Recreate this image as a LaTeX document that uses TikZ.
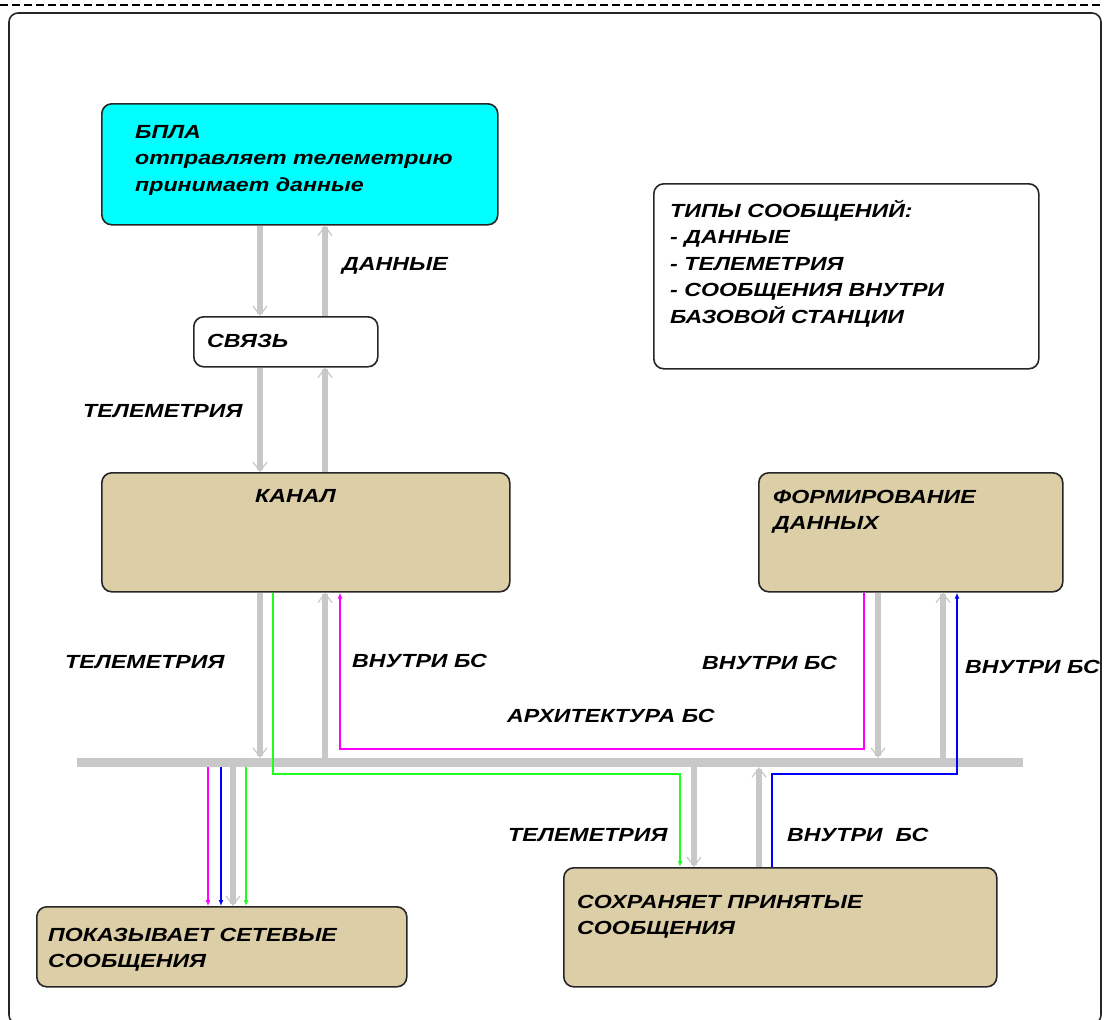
\documentclass[tikz,border=0pt]{standalone}
\usepackage{fontspec}
\usetikzlibrary{arrows.meta}
\newfontfamily\lblfont[FakeStretch=1.22]{Liberation Sans}
\definecolor{boxtan}{RGB}{220,206,166}
\definecolor{boxcyan}{RGB}{0,255,255}
\definecolor{busgray}{RGB}{200,200,200}
\definecolor{msgmagenta}{RGB}{255,0,255}
\definecolor{msgblue}{RGB}{0,0,255}
\definecolor{msggreen}{RGB}{30,255,30}

\begin{document}
\begin{tikzpicture}[x=1pt,y=-1pt,
  box/.style={draw=black!85,line width=1.6pt,rounded corners=10pt,inner sep=0pt,anchor=north west},
  lbl/.style={anchor=base west,inner sep=0pt,align=left,font=\lblfont\bfseries\itshape\fontsize{19}{26.5}\selectfont},
  busarrow/.style={draw=busgray,line width=6pt,-{Straight Barb[length=9pt,width=14pt,line width=1.2pt]}},
  msg/.style={line width=2pt,-{Latex[length=6pt,width=5pt]}}]
\path[use as bounding box] (0,0) rectangle (1104,1020);
\draw[line width=2pt,dash pattern=on 8pt off 4pt] (0,5) -- (1104,5);
\draw[line width=1.6pt,draw=black!85,rounded corners=9pt] (9,13) rectangle (1101,1024);
% blocks
\node[box,fill=boxcyan,minimum width=396,minimum height=121] (bpla) at (101,103) {};
\node[box,fill=white,minimum width=184,minimum height=50] (svyaz) at (193,316) {};
\node[box,fill=boxtan,minimum width=408,minimum height=119] (kanal) at (101,472) {};
\node[box,fill=boxtan,minimum width=304,minimum height=119] (form) at (758,472) {};
\node[box,fill=white,minimum width=385,minimum height=185] (types) at (653,183) {};
\node[box,fill=boxtan,minimum width=370,minimum height=80] (pokaz) at (36,906) {};
\node[box,fill=boxtan,minimum width=433,minimum height=119] (sohr) at (563,867) {};
\node[fill=busgray,minimum width=946,minimum height=9,inner sep=0pt,anchor=west] (bus) at (77,762.5) {};
% block texts (base = last line)
\node[lbl] (bplatxt) at (135,191) {БПЛА\\отправляет телеметрию\\принимает данные};
\node[lbl] (svyaztxt) at (207,347) {СВЯЗЬ};
\node[lbl] (kanaltxt) at (255,502) {КАНАЛ};
\node[lbl] (formtxt) at (773,529.5) {ФОРМИРОВАНИЕ\\ДАННЫХ};
\node[lbl] (typestxt) at (670,323) {ТИПЫ СООБЩЕНИЙ:\\- ДАННЫЕ\\- ТЕЛЕМЕТРИЯ\\- СООБЩЕНИЯ ВНУТРИ\\БАЗОВОЙ СТАНЦИИ};
\node[lbl] (pokaztxt) at (48,967.5) {ПОКАЗЫВАЕТ СЕТЕВЫЕ\\СООБЩЕНИЯ};
\node[lbl] (sohrtxt) at (577,934.5) {СОХРАНЯЕТ ПРИНЯТЫЕ\\СООБЩЕНИЯ};
% flow labels
\node[lbl] (dannye) at (342,270) {ДАННЫЕ};
\node[lbl] (telemA) at (83,417) {ТЕЛЕМЕТРИЯ};
\node[lbl] (telemB) at (65,668) {ТЕЛЕМЕТРИЯ};
\node[lbl] (vnutriA) at (352,667) {ВНУТРИ БС};
\node[lbl] (arch) at (507,722) {АРХИТЕКТУРА БС};
\node[lbl] (vnutriB) at (702,669) {ВНУТРИ БС};
\node[lbl] (vnutriC) at (965,673) {ВНУТРИ БС};
\node[lbl] (telemC) at (508,841) {ТЕЛЕМЕТРИЯ};
\node[lbl] (vnutriD) at (787,841) {ВНУТРИ\ \ БС};
% gray flows
\draw[busarrow] (bpla.south -| 260,0) -- (svyaz.north -| 260,0);
\draw[busarrow] (svyaz.north -| 325,0) -- (bpla.south -| 325,0);
\draw[busarrow] (svyaz.south -| 260,0) -- (kanal.north -| 260,0);
\draw[busarrow] (kanal.north -| 325,0) -- (svyaz.south -| 325,0);
\draw[busarrow] (kanal.south -| 260,0) -- (bus.north -| 260,0);
\draw[busarrow] (bus.north -| 325,0) -- (kanal.south -| 325,0);
\draw[busarrow] (form.south -| 878,0) -- (bus.north -| 878,0);
\draw[busarrow] (bus.north -| 943,0) -- (form.south -| 943,0);
\draw[busarrow] (bus.south -| 694,0) -- (sohr.north -| 694,0);
\draw[busarrow] (sohr.north -| 759,0) -- (bus.south -| 759,0);
\draw[busarrow] (bus.south -| 233,0) -- (pokaz.north -| 233,0);
% coloured messages
\coordinate (gbendA) at (273,774);
\coordinate (gbendB) at (680,774);
\coordinate (mbendA) at (864,749);
\coordinate (mbendB) at (340,749);
\coordinate (bbendA) at (772,774);
\coordinate (bbendB) at (957,774);
\draw[msg,msggreen] (kanal.south -| gbendA) -- (gbendA) -- (gbendB) -- (sohr.north -| gbendB);
\draw[msg,msgmagenta] (form.south -| mbendA) -- (mbendA) -- (mbendB) -- (kanal.south -| mbendB);
\draw[msg,msgblue] (sohr.north -| bbendA) -- (bbendA) -- (bbendB) -- (form.south -| bbendB);
\draw[msg,msgmagenta] (bus.south -| 208,0) -- (pokaz.north -| 208,0);
\draw[msg,msgblue] (bus.south -| 221,0) -- (pokaz.north -| 221,0);
\draw[msg,msggreen] (bus.south -| 246,0) -- (pokaz.north -| 246,0);
\end{tikzpicture}
\end{document}
